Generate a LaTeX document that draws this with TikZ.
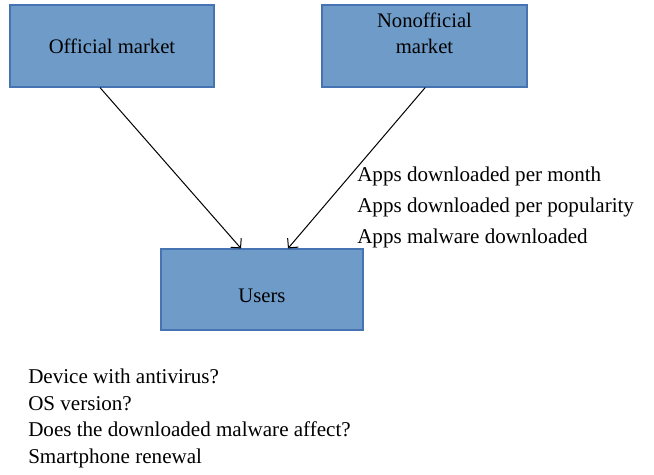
\documentclass[tikz,border=0pt]{standalone}
\usepackage{fontspec}
\setmainfont{Liberation Serif}
\usetikzlibrary{arrows.meta}
\usetikzlibrary{shapes}
\definecolor{boxfill}{RGB}{110,155,200}
\definecolor{boxline}{RGB}{70,115,178}

\begin{document}
\begin{tikzpicture}[x = 0.75pt, y = -0.75pt, font=\fontsize{15.5}{19.5}\selectfont]
	\tikzstyle{marketStyle} = [shape = rectangle, draw = boxline, fill = boxfill, line width = 0.9pt, align = center, inner sep = 0pt]
	\tikzstyle{listStyle} = [align = left, inner sep = 0pt, anchor = west]
	\tikzstyle{EdgeStyle} = [-{Straight Barb[length = 5.2pt, width = 10.5pt]}, line width = 0.75pt]
	\useasboundingbox (0, 0) rectangle (654, 475);
	\node[style = marketStyle, minimum width = 153pt, minimum height = 61.5pt] (official) at (112, 46) {Official market};
	\node[style = marketStyle, minimum width = 153.75pt, minimum height = 61.5pt] (nonofficial) at (424.5, 46) {Nonofficial\\market\\[-6pt] \strut};
	\node[style = marketStyle, minimum width = 151.5pt, minimum height = 60.75pt] (users) at (262, 289.5) {\raisebox{-10pt}[0pt][0pt]{Users}};
	\node[style = listStyle, font = \fontsize{15.8}{23.25}\selectfont] (flows) at (357, 207) {Apps downloaded per month\\Apps downloaded per popularity\\Apps malware downloaded};
	\node[style = listStyle, font = \fontsize{15.8}{19.8}\selectfont] (questions) at (28, 418.5) {Device with antivirus?\\OS version?\\Does the downloaded malware affect?\\Smartphone renewal};
	\draw[style = EdgeStyle] ([xshift = -9pt]official.south) -- ([xshift = -15.75pt]users.north);
	\draw[style = EdgeStyle] ([xshift = 0.5pt]nonofficial.south) -- ([xshift = 19.5pt]users.north);
\end{tikzpicture}
\end{document}
